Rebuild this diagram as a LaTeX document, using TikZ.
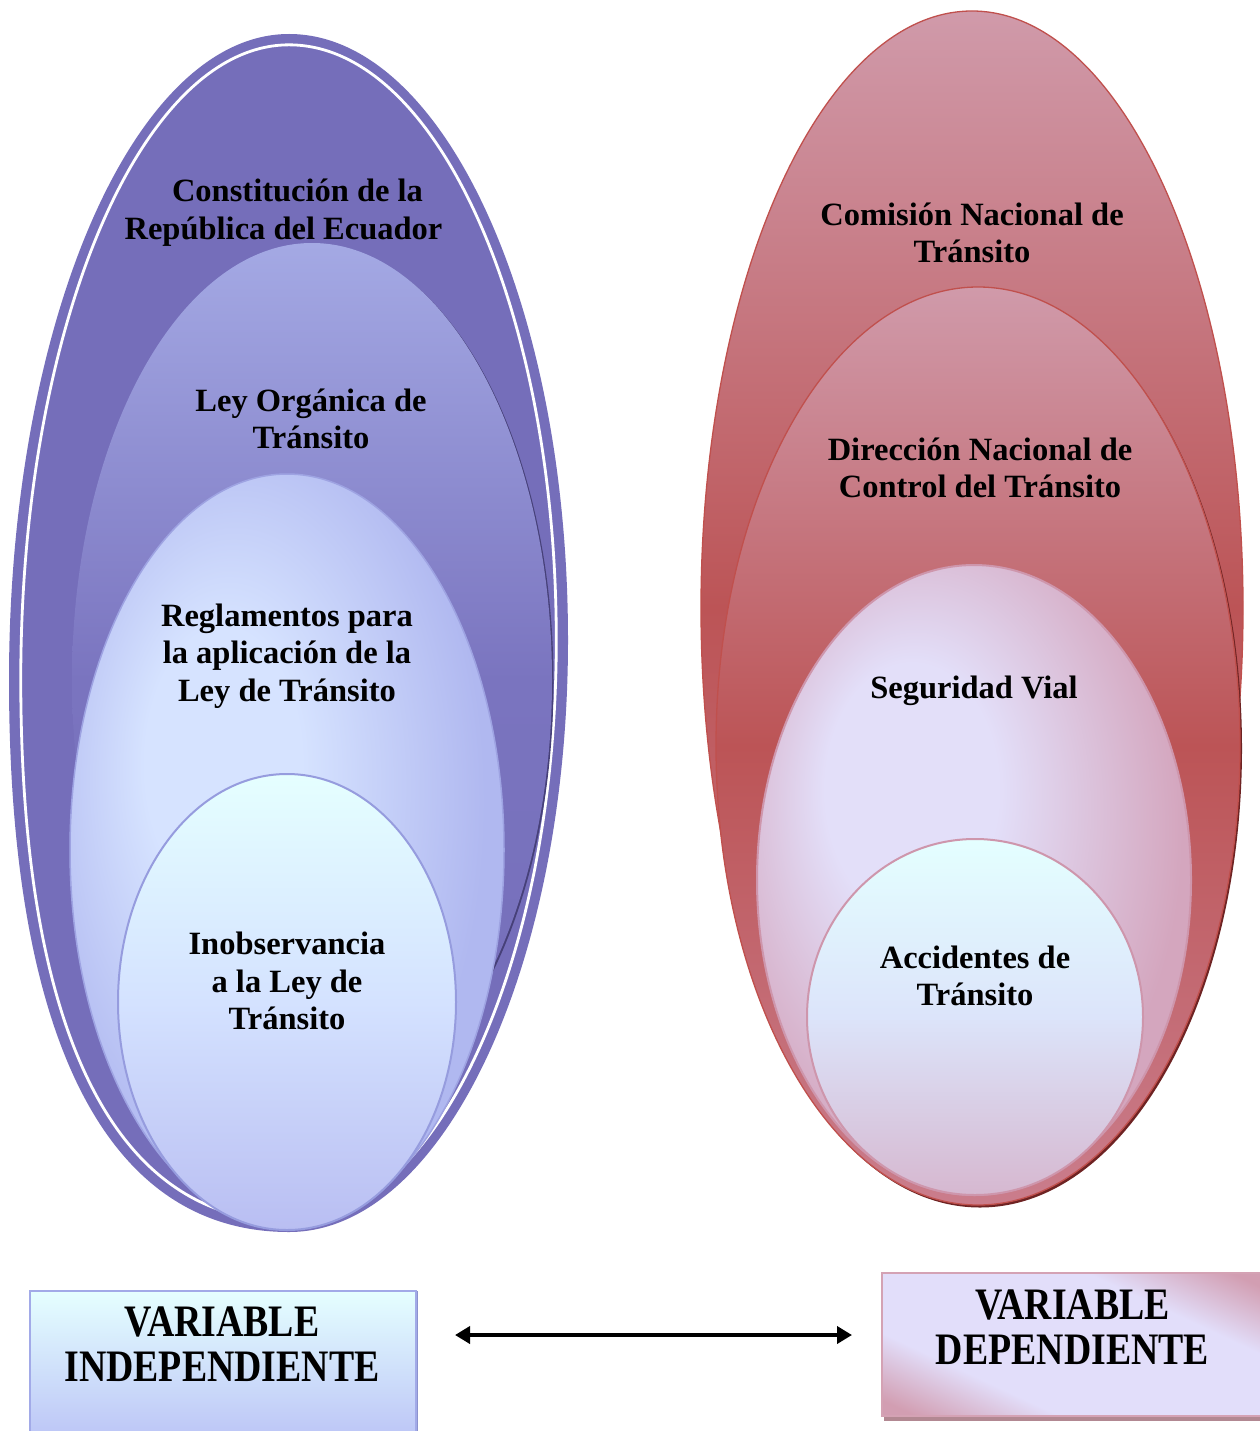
\documentclass[tikz,border=0pt]{standalone}
\usepackage{fontspec}
\setmainfont{Liberation Serif}
\newfontfamily\condfont[FakeStretch=0.84]{Liberation Serif}
\usetikzlibrary{arrows.meta,shadings}

\definecolor{purO}{RGB}{117,110,186}
\definecolor{leyT}{RGB}{164,169,228}
\definecolor{leyM}{RGB}{122,116,191}
\definecolor{leyShadow}{RGB}{70,64,120}
\definecolor{regIn}{RGB}{214,227,255}
\definecolor{regOut}{RGB}{176,184,240}
\definecolor{regEdge}{RGB}{158,163,226}
\definecolor{inoT}{RGB}{229,255,255}
\definecolor{inoM}{RGB}{212,226,255}
\definecolor{inoB}{RGB}{185,190,242}
\definecolor{inoEdge}{RGB}{150,156,222}
\definecolor{redT}{RGB}{208,154,170}
\definecolor{redM}{RGB}{188,84,86}
\definecolor{redB}{RGB}{202,125,140}
\definecolor{redEdge}{RGB}{192,80,77}
\definecolor{redShadow}{RGB}{110,35,35}
\definecolor{segIn}{RGB}{227,223,249}
\definecolor{segOut}{RGB}{212,166,190}
\definecolor{pinkEdge}{RGB}{206,150,172}
\definecolor{accT}{RGB}{228,255,255}
\definecolor{accM}{RGB}{220,228,250}
\definecolor{accB}{RGB}{214,184,208}
\definecolor{lboxT}{RGB}{229,255,255}
\definecolor{lboxB}{RGB}{186,194,246}
\definecolor{lboxEdge}{RGB}{162,170,232}
\definecolor{lboxShadow}{RGB}{140,146,206}
\definecolor{rboxPink}{RGB}{210,158,178}
\definecolor{rboxLav}{RGB}{226,222,250}
\definecolor{rboxEdge}{RGB}{212,162,180}
\definecolor{rboxShadow}{RGB}{178,136,146}

\pgfdeclareradialshading{reglamsh}{\pgfpoint{-9bp}{7bp}}{color(0bp)=(regIn); color(9bp)=(regIn); color(27bp)=(regOut); color(50bp)=(regOut)}
\pgfdeclareradialshading{segsh}{\pgfpoint{-9bp}{9bp}}{color(0bp)=(segIn); color(10bp)=(segIn); color(28bp)=(segOut); color(50bp)=(segOut)}
\pgfdeclarehorizontalshading{rboxsh}{100bp}{color(0bp)=(rboxPink); color(20bp)=(rboxPink); color(34bp)=(rboxLav); color(66bp)=(rboxLav); color(80bp)=(rboxPink); color(100bp)=(rboxPink)}

\tikzset{
  lbl/.style={font=\bfseries\fontsize{32.5}{37.5}\selectfont, align=center, inner sep=0pt, text=black},
  boxlbl/.style={font=\condfont\bfseries\fontsize{45}{45}\selectfont, align=center, inner sep=0pt, text=black},
  redring/.style={top color=redT, bottom color=redB, middle color=redM, draw=redEdge, line width=1.3pt},
}

\begin{document}
\begin{tikzpicture}[x=1pt,y=-1pt]
\useasboundingbox (0,0) rectangle (1259,1431);
\fill[white] (0,0) rectangle (1259,1431);

% ---------- left nest ----------
\path[fill=purO] (289,34) .. controls (443,34) and (568,305) .. (568,640)
  .. controls (568,967) and (443,1232) .. (289,1232)
  .. controls (107,1232) and (9,1039) .. (9,680)
  .. controls (9,323) and (134,34) .. (289,34) -- cycle;
\begin{scope}[shift={(289,636)}, xscale=0.958, yscale=0.982, shift={(-289,-636)}]
\draw[white, line width=2.8pt] (289,34) .. controls (443,34) and (568,305) .. (568,640)
  .. controls (568,967) and (443,1232) .. (289,1232)
  .. controls (107,1232) and (9,1039) .. (9,680)
  .. controls (9,323) and (134,34) .. (289,34) -- cycle;
\end{scope}

\fill[leyShadow] (313.5,681.5) ellipse [x radius=240, y radius=437];
\path[top color=leyT, bottom color=purO, middle color=leyM] (312,680) ellipse [x radius=240, y radius=437];

\path[shade, shading=reglamsh, draw=regEdge, line width=1.5pt] (287,850) ellipse [x radius=217, y radius=376];

\path[top color=inoT, bottom color=inoB, middle color=inoM, draw=inoEdge, line width=2pt] (287,1002) ellipse [x radius=169, y radius=228];

\node[lbl] (t1) at (283.5,212.5) {\hspace*{28pt}Constitución de la\\República del Ecuador};
\node[lbl] (t2) at (311,419) {Ley Orgánica de\\Tránsito};
\node[lbl] (t3) at (287,656) {Reglamentos para\\la aplicación de la\\Ley de Tránsito};
\node[lbl] (t4) at (287,981) {Inobservancia\\a la Ley de\\Tránsito};

% ---------- right nest ----------
\path[redring] (972,608) ellipse [x radius=271, y radius=597];
\fill[redShadow] (980,748.5) ellipse [x radius=262, y radius=459];
\path[redring] (978,746) ellipse [x radius=262, y radius=459];
\path[shade, shading=segsh, draw=pinkEdge, line width=2pt] (974,880) ellipse [x radius=217, y radius=315];
\path[top color=accT, bottom color=accB, middle color=accM, draw=pinkEdge, line width=2pt] (975,1017) ellipse [x radius=168, y radius=178];

\node[lbl] (t5) at (972,233) {Comisión Nacional de\\Tránsito};
\node[lbl] (t6) at (980,468) {Dirección Nacional de\\Control del Tránsito};
\node[lbl] (t7) at (974,691) {Seguridad Vial};
\node[lbl] (t8) at (975,976) {Accidentes de\\Tránsito};

% ---------- bottom boxes ----------
\fill[lboxShadow] (32,1291) rectangle (418,1445);
\node[draw=lboxEdge, line width=1.5pt, top color=lboxT, bottom color=lboxB, minimum width=386pt, minimum height=155pt, anchor=north west, inner sep=0pt] (lbox) at (29,1290) {};
\node[boxlbl] (lt) at (222,1344.5) {VARIABLE\\INDEPENDIENTE};

\fill[rboxShadow] (884,1277) rectangle (1268,1421);
\node[draw=rboxEdge, line width=1.5pt, shade, shading=rboxsh, shading angle=65, minimum width=383pt, minimum height=143pt, anchor=north west, inner sep=0pt] (rbox) at (881,1272) {};
\node[boxlbl] (rt) at (1072.5,1327) {VARIABLE\\DEPENDIENTE};

\coordinate (aL) at (455,1335);
\coordinate (aR) at (852,1335);
\draw[line width=4pt, {Triangle[length=15pt,width=17pt]}-{Triangle[length=15pt,width=17pt]}] (aL) -- (aR);
\end{tikzpicture}
\end{document}
